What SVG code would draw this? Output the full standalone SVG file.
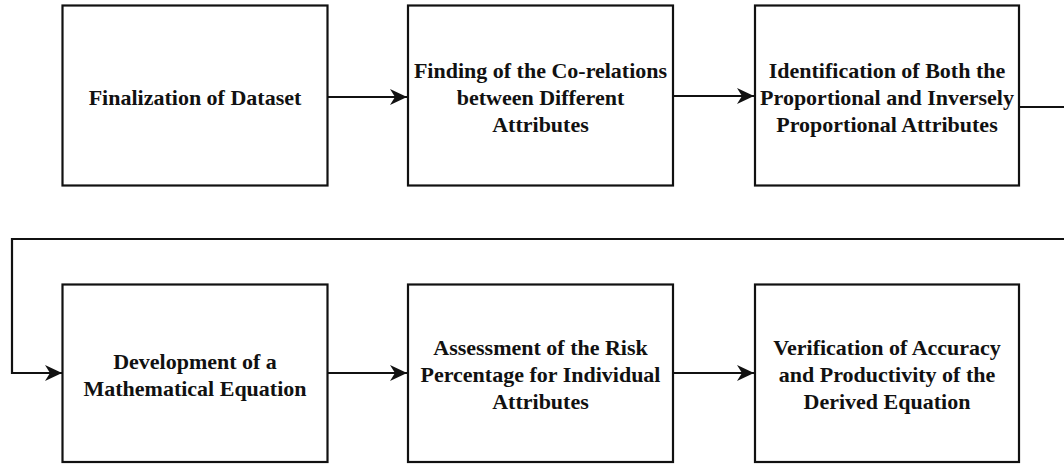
<svg xmlns="http://www.w3.org/2000/svg" width="1064" height="464" viewBox="0 0 1064 464">
<defs>
<style>
.box{fill:#fff;stroke:#111;stroke-width:2.2}
.lbl{font-family:"Liberation Serif","Times New Roman",serif;font-weight:bold;font-size:22px;fill:#111;text-anchor:middle}
.edge{fill:none;stroke:#111;stroke-width:2.2}
.head{fill:#111;stroke:none}
</style>
<marker id="arr" markerUnits="userSpaceOnUse" markerWidth="18" markerHeight="18" viewBox="0 0 18 18" refX="17" refY="9" orient="auto">
<path class="head" d="M0,1 L17,9 L0,17 L5,9 Z"/>
</marker>
</defs>
<rect width="1064" height="464" fill="#fff"/>
<g id="connectors">
<path class="edge" d="M328,97 L407,97" marker-end="url(#arr)"/>
<path class="edge" d="M673,96 L754,96" marker-end="url(#arr)"/>
<path class="edge" d="M1019,107 L1075,107 L1075,239 L12,239 L12,373 L62,373" marker-end="url(#arr)"/>
<path class="edge" d="M328,373 L407,373" marker-end="url(#arr)"/>
<path class="edge" d="M673,373 L754,373" marker-end="url(#arr)"/>
</g>
<g id="n1">
<rect class="box" x="62.5" y="5.5" width="265" height="180"/>
<text class="lbl" x="195" y="105">Finalization of Dataset</text>
</g>
<g id="n2">
<rect class="box" x="408" y="5.5" width="265" height="180"/>
<text class="lbl" x="540.5" y="77.5">Finding of the Co-relations</text>
<text class="lbl" x="540.5" y="104.5">between Different</text>
<text class="lbl" x="540.5" y="131.5">Attributes</text>
</g>
<g id="n3">
<rect class="box" x="755" y="5.5" width="264" height="180"/>
<text class="lbl" x="887" y="77.5">Identification of Both the</text>
<text class="lbl" x="887" y="104.5">Proportional and Inversely</text>
<text class="lbl" x="887" y="131.5">Proportional Attributes</text>
</g>
<g id="n4">
<rect class="box" x="62.5" y="284.5" width="265" height="177.5"/>
<text class="lbl" x="195" y="369">Development of a</text>
<text class="lbl" x="195" y="396">Mathematical Equation</text>
</g>
<g id="n5">
<rect class="box" x="408" y="284.5" width="265" height="177.5"/>
<text class="lbl" x="540.5" y="355">Assessment of the Risk</text>
<text class="lbl" x="540.5" y="382">Percentage for Individual</text>
<text class="lbl" x="540.5" y="409">Attributes</text>
</g>
<g id="n6">
<rect class="box" x="755" y="284.5" width="264" height="177.5"/>
<text class="lbl" x="887" y="355">Verification of Accuracy</text>
<text class="lbl" x="887" y="382">and Productivity of the</text>
<text class="lbl" x="887" y="409">Derived Equation</text>
</g>
</svg>
